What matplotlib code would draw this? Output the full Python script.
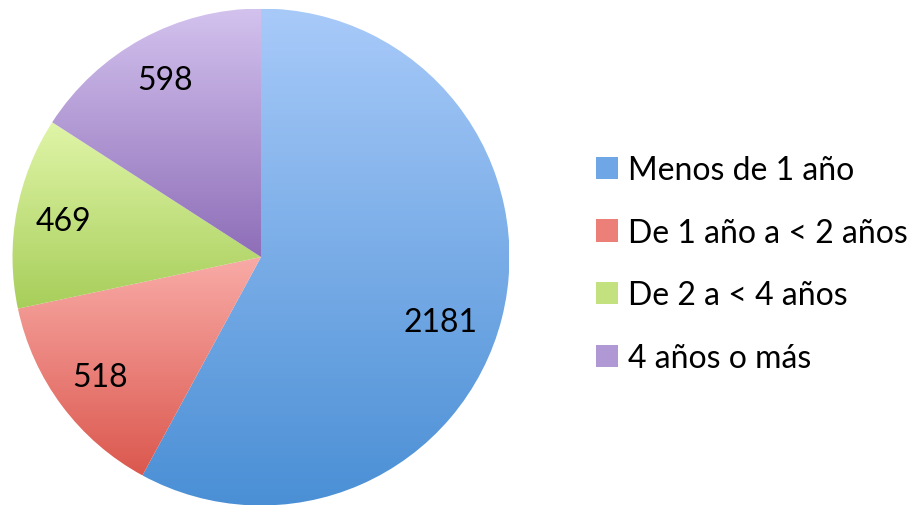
import numpy as np
import matplotlib
matplotlib.use("Agg")
import matplotlib.pyplot as plt
from matplotlib.colors import LinearSegmentedColormap
from matplotlib.patches import Patch

categories = ["Menos de 1 año", "De 1 año a < 2 años", "De 2 a < 4 años", "4 años o más"]
values = [2181, 518, 469, 598]
top_colors = ["#a8caf9", "#f9aba7", "#e0f5a8", "#d3c2ee"]
bottom_colors = ["#4a8fd5", "#db584e", "#a7ce5a", "#8e6eb8"]
mid_colors = ["#6fa7e6", "#ec8079", "#c3e17e", "#b098d4"]

plt.rcParams['font.family'] = ['Lato', 'DejaVu Sans']

fig = plt.figure(figsize=(9.12, 5.06), dpi=100)
cx, cy, r = 261, 258, 248.5
W, H = 912, 506
ax = fig.add_axes([(cx - r) / W, (H - cy - r) / H, 2 * r / W, 2 * r / H])
ax.set_xlim(-1, 1)
ax.set_ylim(-1, 1)
ax.axis('off')

wedges, texts, autotexts = ax.pie(
    values, startangle=90, counterclock=False, radius=1,
    colors=mid_colors, wedgeprops=dict(linewidth=0),
    autopct=lambda p: f"{round(p * sum(values) / 100):d}",
    pctdistance=0.81, textprops=dict(fontsize=23, color='black'))
ax.set_xlim(-1, 1)
ax.set_ylim(-1, 1)
ax.set_aspect('auto')

grad = np.linspace(0, 1, 256).reshape(-1, 1)
for w, ct, cb in zip(wedges, top_colors, bottom_colors):
    verts = w.get_path().vertices
    y0, y1 = verts[:, 1].min(), verts[:, 1].max()
    x0, x1 = verts[:, 0].min(), verts[:, 0].max()
    cmap = LinearSegmentedColormap.from_list("g", [cb, ct])
    im = ax.imshow(grad, cmap=cmap, extent=[x0, x1, y0, y1], origin='lower',
                   aspect='auto', zorder=w.get_zorder() + 0.1)
    im.set_clip_path(w)
    w.set_facecolor('none')

for t in autotexts:
    t.set_zorder(10)
# place the big slice's label like the reference
ang = np.deg2rad(-20)
autotexts[0].set_position((0.77 * np.cos(ang), 0.77 * np.sin(ang)))

handles = [Patch(facecolor=c, edgecolor='none') for c in mid_colors]
fig.legend(handles, categories, loc='center left', bbox_to_anchor=(596 / W, 1 - 265 / H),
           frameon=False, fontsize=23, handlelength=0.7, handleheight=0.7,
           handletextpad=0.3, labelspacing=1.02, borderaxespad=0, borderpad=0)

fig.savefig("out.png", dpi=100)
